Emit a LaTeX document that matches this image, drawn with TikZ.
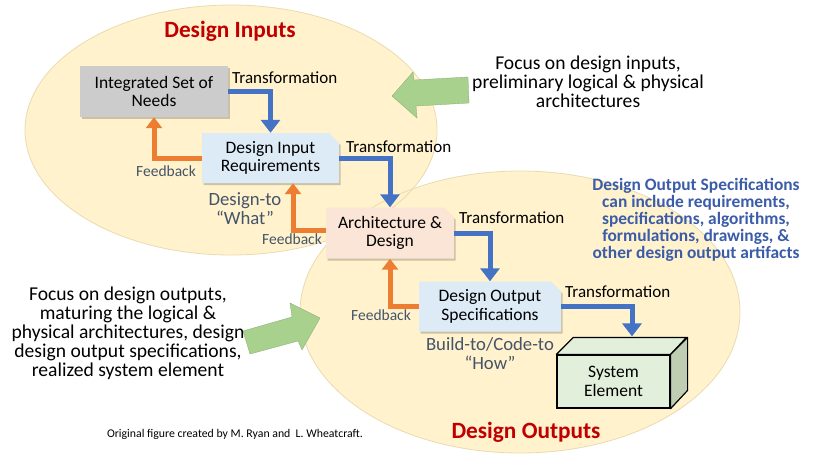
\documentclass[tikz,border=0pt]{standalone}
\usepackage{fontspec}
\setmainfont{Carlito}
\usetikzlibrary{shapes.misc,shadows,arrows.meta,calc}
\definecolor{ellfill}{HTML}{FFF2CC}
\definecolor{elldraw}{HTML}{EADBB0}
\definecolor{insfill}{HTML}{CDCCCC}
\definecolor{bluefill}{HTML}{DDEBF7}
\definecolor{peachfill}{HTML}{FBE5D6}
\definecolor{tblue}{HTML}{4472C4}
\definecolor{forange}{HTML}{ED7D31}
\definecolor{slate}{HTML}{44546A}
\definecolor{darkred}{HTML}{C00000}
\definecolor{garrow}{HTML}{A9D18E}
\definecolor{sefront}{HTML}{E2EFDA}
\definecolor{seside}{HTML}{BFCDB3}
\definecolor{parablue}{HTML}{3B5CA8}
\begin{document}
\begin{tikzpicture}[x=1pt,y=-1pt,
  shad/.style={drop shadow={shadow xshift=1.5pt,shadow yshift=-2pt,opacity=.2,fill=black}},
  boxbase/.style={shad,align=center,inner sep=2pt,font=\fontsize{17.5}{18.5}\selectfont},
  plainbox/.style={boxbase,rectangle,fill=insfill},
  snipbox/.style={boxbase,chamfered rectangle,chamfered rectangle corners=north east,
     chamfered rectangle xsep=0pt,chamfered rectangle ysep=0pt,chamfered rectangle sep=5pt},
  tarrow/.style={draw=tblue,line width=5pt,-{Triangle[width=19pt,length=13pt]}},
  farrow/.style={draw=forange,line width=5pt,-{Triangle[width=16pt,length=11pt]}},
  tlabel/.style={font=\fontsize{17}{18}\selectfont,inner sep=0pt},
  flabel/.style={font=\fontsize{15.5}{17}\selectfont,text=slate,inner sep=0pt},
  design/.style={font=\fontsize{18.7}{19}\selectfont,text=slate,align=center,inner sep=0pt},
  title/.style={font=\fontsize{23.3}{25}\selectfont\bfseries,text=darkred,inner sep=0pt},
  focus/.style={font=\fontsize{19.6}{19}\selectfont,align=center,inner sep=0pt},
  gar/.style={fill=garrow,draw=garrow!80!black,line width=0.3pt}
]
\fill[white] (0,0) rectangle (816,459);
\useasboundingbox (0,0) rectangle (816,459);

% ellipses
\fill[ellfill] (231,130) ellipse [x radius=206, y radius=125];
\fill[ellfill] (520,312) ellipse [x radius=220, y radius=141];
\draw[elldraw,line width=0.8pt] (231,130) ellipse [x radius=206, y radius=125];
\draw[elldraw,line width=0.8pt] (520,312) ellipse [x radius=220, y radius=141];

% green arrows
\fill[gar] (392,96) -- (413,72) -- (414,80) -- (468,77) -- (469,103) -- (416,106) -- (417,118) -- cycle;
\fill[gar] (243,331) -- (292,317) -- (290,303) -- (320,318) -- (302,350) -- (298,341) -- (250,354) -- cycle;

% boxes
\node[plainbox,minimum width=148pt,minimum height=51pt] (INS) at (154,91.5) {Integrated Set of\\Needs};
\node[snipbox,fill=bluefill,minimum width=137pt,minimum height=50pt] (DIR) at (270.5,158) {Design Input\\Requirements};
\node[snipbox,fill=peachfill,minimum width=128pt,minimum height=51pt] (AD) at (390,233) {Architecture \&\\Design};
\node[snipbox,fill=bluefill,minimum width=142pt,minimum height=50pt] (DOS) at (490,306.5) {Design Output\\Specifications};

% system element (3D box)
\node[rectangle,draw=black,line width=1.2pt,fill=sefront,minimum width=113pt,minimum height=53pt,
      align=center,font=\fontsize{17.5}{18.5}\selectfont] (SE) at (613.5,381.5) {System\\Element};
\fill[sefront,draw=black,line width=1.2pt,line join=round] (SE.north west) -- ++(17,-17) -- ++(113,0) -- (SE.north east) -- cycle;
\fill[seside,draw=black,line width=1.2pt,line join=round] (SE.north east) -- ++(17,-17) -- ++(0,53) -- (SE.south east) -- cycle;
\coordinate (SEtop) at ([xshift=18.5pt,yshift=18pt]SE.north);

% transformation arrows
\draw[tarrow] (INS.east) -| (DIR.north);
\draw[tarrow] (DIR.east) -| (AD.north);
\draw[tarrow] (AD.east) -| (DOS.north);
\draw[tarrow] (DOS.east) -| (SEtop);

% feedback arrows
\draw[farrow] (DIR.west) -| (INS.south);
\draw[farrow] ([yshift=3pt]AD.west) -| ([xshift=22.5pt]DIR.south);
\draw[farrow] (DOS.west) -| (AD.south);

% labels
\node[tlabel,anchor=west] (T1) at (232,78) {Transformation};
\node[tlabel,anchor=west] (T2) at (346,147) {Transformation};
\node[tlabel,anchor=west] (T3) at (459,218) {Transformation};
\node[tlabel,anchor=west] (T4) at (565,292) {Transformation};
\node[flabel,anchor=east] (F1) at (196,171) {Feedback};
\node[flabel,anchor=east] (F2) at (322,239) {Feedback};
\node[flabel,anchor=east] (F3) at (411,315) {Feedback};

\node[design] (DT) at (245,209) {Design-to\\“What”};
\node[design] (BT) at (490,354) {Build-to/Code-to\\“How”};

\node[title] (DI) at (230,31) {Design Inputs};
\node[title] (DO) at (526,432) {Design Outputs};

\node[focus] (FI) at (588,81.5) {Focus on design inputs,\\preliminary logical \& physical\\architectures};
\node[focus] (FO) at (128,333) {Focus on design outputs,\\maturing the logical \&\\physical architectures, design\\design output specifications,\\realized system element};

\node[font=\fontsize{17.4}{17}\selectfont\bfseries,text=parablue,align=center,inner sep=0pt] (DOSnote) at (696,219.5)
  {Design Output Specifications\\can include requirements,\\specifications, algorithms,\\formulations, drawings, \&\\other design output artifacts};

\node[font=\fontsize{11.8}{13}\selectfont,inner sep=0pt] (credit) at (235,434) {Original figure created by M. Ryan and \ L. Wheatcraft.};
\end{tikzpicture}
\end{document}
